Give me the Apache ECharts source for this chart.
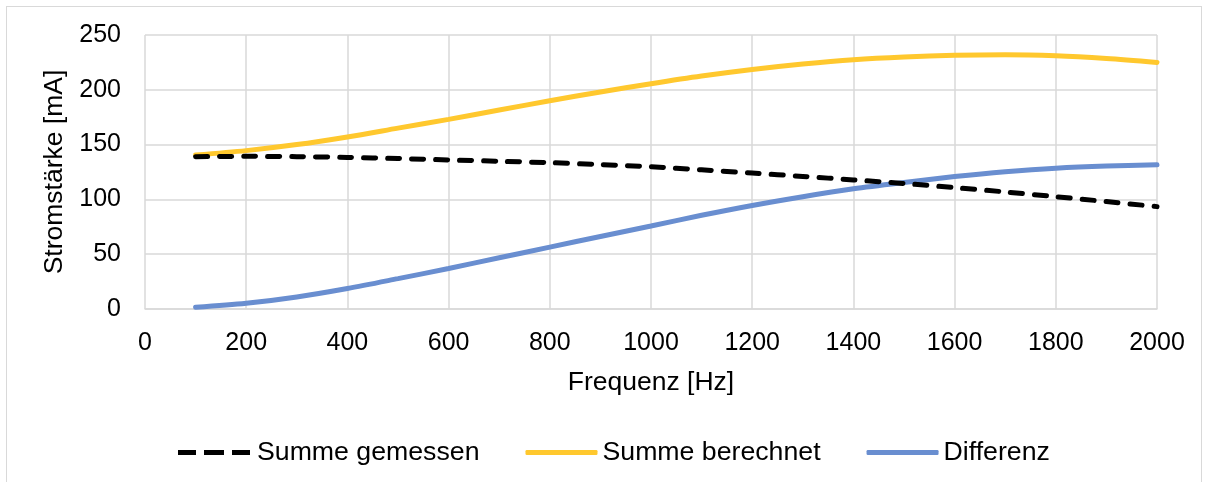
<!DOCTYPE html>
<html>
<head>
<meta charset="utf-8">
<script src="https://cdn.jsdelivr.net/npm/echarts@6/dist/echarts.min.js"></script>
<style>
  html, body { margin: 0; padding: 0; background: #fff; }
  #frame { position: absolute; left: 6px; top: 6px; width: 1196px; height: 490px; border: 1px solid #d9d9d9; box-sizing: border-box; }
  #chart { position: absolute; left: 0; top: 0; width: 1208px; height: 482px; }
</style>
</head>
<body>
<div id="frame"></div>
<div id="chart"></div>
<script>
// Frequenz in Hz
const frequencies = [100, 200, 300, 400, 500, 600, 700, 800, 900, 1000,
  1100, 1200, 1300, 1400, 1500, 1600, 1700, 1800, 1900, 2000];
// Stromstärke in mA
const summeGemessen = [139, 139.3, 139, 138.3, 137.3, 136, 134.8, 133.5, 131.8, 129.8,
  127, 124, 121, 117.8, 114.5, 110.7, 106.8, 102.5, 98, 93.4];
const summeBerechnet = [140.5, 144.5, 150, 157, 165, 173, 181.5, 190, 198, 205.5,
  212.5, 218.5, 223.5, 227.5, 230, 231.5, 232, 231, 228.5, 225];
const differenz = [1.5, 5.2, 11, 18.7, 27.7, 37, 46.7, 56.5, 66.2, 75.7,
  85.5, 94.5, 102.5, 109.7, 115.5, 120.8, 125.2, 128.5, 130.5, 131.6];
const seriesNames = ["Summe gemessen", "Summe berechnet", "Differenz"];
const seriesColors = ["#000000", "#FFC82E", "#698ED0"];

const font = "Liberation Sans, Arial, sans-serif";
const pairs = (ys) => frequencies.map((x, i) => [x, ys[i]]);

// legend icons: three dashes for the measured sum, plain bars for the others
const dashIcon = "path://M0,0h18v5h-18z M26,0h20v5h-20z M54,0h18v5h-18z";

var myChart = echarts.init(document.getElementById("chart"));

const option = {
  animation: false,
  textStyle: { fontFamily: font },
  grid: { left: 145, right: 51, top: 35, bottom: 173 },
  legend: {
    bottom: 16,
    left: 178,
    padding: 0,
    itemWidth: 72,
    itemHeight: 5,
    itemGap: 46,
    textStyle: { fontSize: 26.7, color: "#000", fontFamily: font },
    data: [
      { name: seriesNames[0], icon: dashIcon, textStyle: { padding: [0, 0, 0, 2] } },
      { name: seriesNames[1], icon: "roundRect" },
      { name: seriesNames[2], icon: "roundRect" },
    ],
  },
  xAxis: {
    type: "value",
    min: 0,
    max: 2000,
    interval: 200,
    name: "Frequenz [Hz]",
    nameLocation: "middle",
    nameGap: 60,
    nameTextStyle: { fontSize: 26.5, color: "#000", fontFamily: font },
    axisLine: { show: true, lineStyle: { color: "#d9d9d9", width: 1.5 } },
    axisTick: { show: false },
    axisLabel: { fontSize: 25, color: "#000", margin: 22, fontFamily: font, formatter: (v) => String(v) },
    splitLine: { show: true, lineStyle: { color: "#d9d9d9", width: 1.5 } },
  },
  yAxis: {
    type: "value",
    min: 0,
    max: 250,
    interval: 50,
    name: "Stromstärke [mA]",
    nameLocation: "middle",
    nameGap: 73,
    nameTextStyle: { fontSize: 26.5, color: "#000", fontFamily: font },
    axisLine: { show: false },
    axisTick: { show: false },
    axisLabel: { fontSize: 25, color: "#000", margin: 24, fontFamily: font },
    splitLine: { show: true, lineStyle: { color: "#d9d9d9", width: 1.5 } },
  },
  series: [
    {
      name: seriesNames[0],
      type: "line",
      smooth: 0.3,
      symbol: "none",
      data: pairs(summeGemessen),
      z: 3,
      lineStyle: { color: seriesColors[0], width: 5, type: [12, 12], cap: "round" },
      itemStyle: { color: seriesColors[0] },
    },
    {
      name: seriesNames[1],
      type: "line",
      smooth: 0.3,
      symbol: "none",
      data: pairs(summeBerechnet),
      z: 2,
      lineStyle: { color: seriesColors[1], width: 5, cap: "round" },
      itemStyle: { color: seriesColors[1] },
    },
    {
      name: seriesNames[2],
      type: "line",
      smooth: 0.3,
      symbol: "none",
      data: pairs(differenz),
      z: 2,
      lineStyle: { color: seriesColors[2], width: 5, cap: "round" },
      itemStyle: { color: seriesColors[2] },
    },
  ],
};

myChart.setOption(option);
</script>
</body>
</html>
